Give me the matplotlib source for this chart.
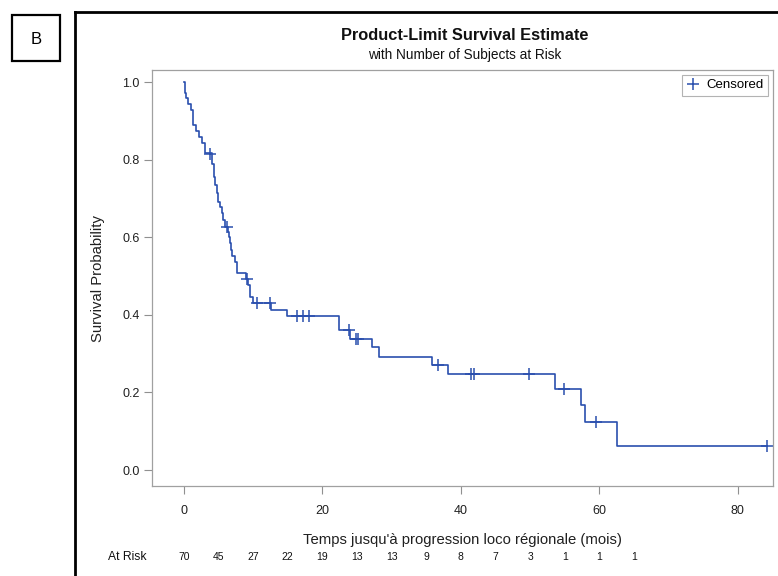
import matplotlib
matplotlib.use("Agg")
import matplotlib.pyplot as plt
from matplotlib.lines import Line2D
import numpy as np

plt.rcParams['font.family'] = ['Liberation Sans', 'DejaVu Sans']

# Kaplan-Meier step estimate (time of drop, survival after drop)
event_times = [0.0, 0.10, 0.25, 0.62, 0.97, 1.30, 1.73, 2.12, 2.56, 3.03,
               4.09, 4.34, 4.48, 4.73, 4.96, 5.20, 5.45, 5.68, 5.92,
               6.40, 6.55, 6.70, 6.85, 6.98, 7.37, 7.62, 8.96, 9.29, 9.54, 10.0,
               12.57, 14.93, 22.44, 23.99, 27.17, 28.18, 35.77, 38.19,
               53.61, 57.37, 57.95, 62.50, 84.3]
survival = [1.0, 0.971, 0.958, 0.943, 0.929, 0.889, 0.874, 0.859, 0.844, 0.816,
            0.788, 0.756, 0.735, 0.713, 0.691, 0.679, 0.662, 0.644, 0.627,
            0.614, 0.600, 0.585, 0.567, 0.552, 0.537, 0.507, 0.492, 0.477, 0.447, 0.431,
            0.412, 0.398, 0.361, 0.339, 0.318, 0.292, 0.272, 0.247,
            0.210, 0.168, 0.124, 0.0626, 0.0626]

# Censored observations (time, survival)
censor_times = [3.76, 6.26, 9.15, 10.5, 12.5, 16.37, 17.24, 18.11, 23.84, 24.86,
                25.19, 36.7, 41.43, 41.95, 49.9, 54.91, 59.58, 84.3]
censor_surv = [0.814, 0.627, 0.492, 0.431, 0.431, 0.398, 0.398, 0.398, 0.361, 0.339,
               0.339, 0.272, 0.247, 0.247, 0.247, 0.210, 0.124, 0.0626]

risk_times = [0, 5, 10, 15, 20, 25, 30, 35, 40, 45, 50, 55, 60, 65]
risk_counts = [70, 45, 27, 22, 19, 13, 13, 9, 8, 7, 3, 1, 1, 1]

xticks = [0, 20, 40, 60, 80]
yticks = [0.0, 0.2, 0.4, 0.6, 0.8, 1.0]

W, H = 778, 576
fig = plt.figure(figsize=(W / 100, H / 100), dpi=100)

def fx(px):
    return px / W

def fy(py):
    return 1 - py / H

ax = fig.add_axes([fx(152), fy(486), fx(773) - fx(152), fy(70) - fy(486)])

blue = '#2A4FAE'
ax.step(event_times, survival, where='post', color=blue, lw=1.2)
ax.plot(censor_times, censor_surv, linestyle='none', marker='+', color=blue,
        markersize=9, markeredgewidth=1.1)

ax.set_xlim(-4.62, 85.1)
ax.set_ylim(-0.041, 1.031)
ax.set_xticks(xticks)
ax.set_xticklabels([str(t) for t in xticks])
ax.set_yticks(yticks)
ax.set_yticklabels([f"{v:.1f}" for v in yticks])
ax.tick_params(axis='both', labelsize=9, color='#909090', length=6, width=0.8,
               direction='out', labelcolor='#202020')
ax.tick_params(axis='x', pad=8)
ax.tick_params(axis='y', pad=3)
for s in ax.spines.values():
    s.set_color('#A0A0A0')
    s.set_linewidth(0.9)

ax.set_xlabel("Temps jusqu'à progression loco régionale (mois)", fontsize=10.7,
              color='#202020', labelpad=11)
ax.set_ylabel("Survival Probability", fontsize=10.7, color='#202020', labelpad=12)

leg_handle = Line2D([], [], linestyle='none', marker='+', color=blue,
                    markersize=8, markeredgewidth=1.1)
leg = ax.legend([leg_handle], ['Censored'], loc='upper right', fontsize=9.5,
                frameon=True, fancybox=False, handlelength=1.0, handletextpad=0.5,
                borderpad=0.35, borderaxespad=0.35)
leg.get_frame().set_edgecolor('#A0A0A0')
leg.get_frame().set_linewidth(0.8)

# Titles
fig.text(fx(465), fy(36), "Product-Limit Survival Estimate", ha='center', va='center',
         fontsize=11.8, fontweight='bold', color='#111111')
fig.text(fx(465), fy(55), "with Number of Subjects at Risk", ha='center', va='center',
         fontsize=9.8, color='#111111')

# At-risk row
row_y = (fy(557) - fy(486)) / (fy(70) - fy(486))
for t, n in zip(risk_times, risk_counts):
    ax.text(t, row_y, str(n), transform=ax.get_xaxis_transform(), ha='center',
            va='center', fontsize=7.5, color='#111111')
fig.text(fx(127), fy(557), "At Risk", ha='center', va='center', fontsize=8.7,
         color='#111111')

# Outer frame and panel label
fig.add_artist(Line2D([fx(75), fx(75)], [fy(12), 0], color='black', lw=2,
                      transform=fig.transFigure))
fig.add_artist(Line2D([fx(75), 1], [fy(12), fy(12)], color='black', lw=2,
                      transform=fig.transFigure))
fig.add_artist(plt.Rectangle((fx(12), fy(61)), fx(60) - fx(12), fy(15) - fy(61),
                             fill=False, edgecolor='black', lw=1.6,
                             transform=fig.transFigure))
fig.text(fx(36), fy(39), "B", ha='center', va='center', fontsize=12, color='black')

fig.savefig("out.png", dpi=100)
